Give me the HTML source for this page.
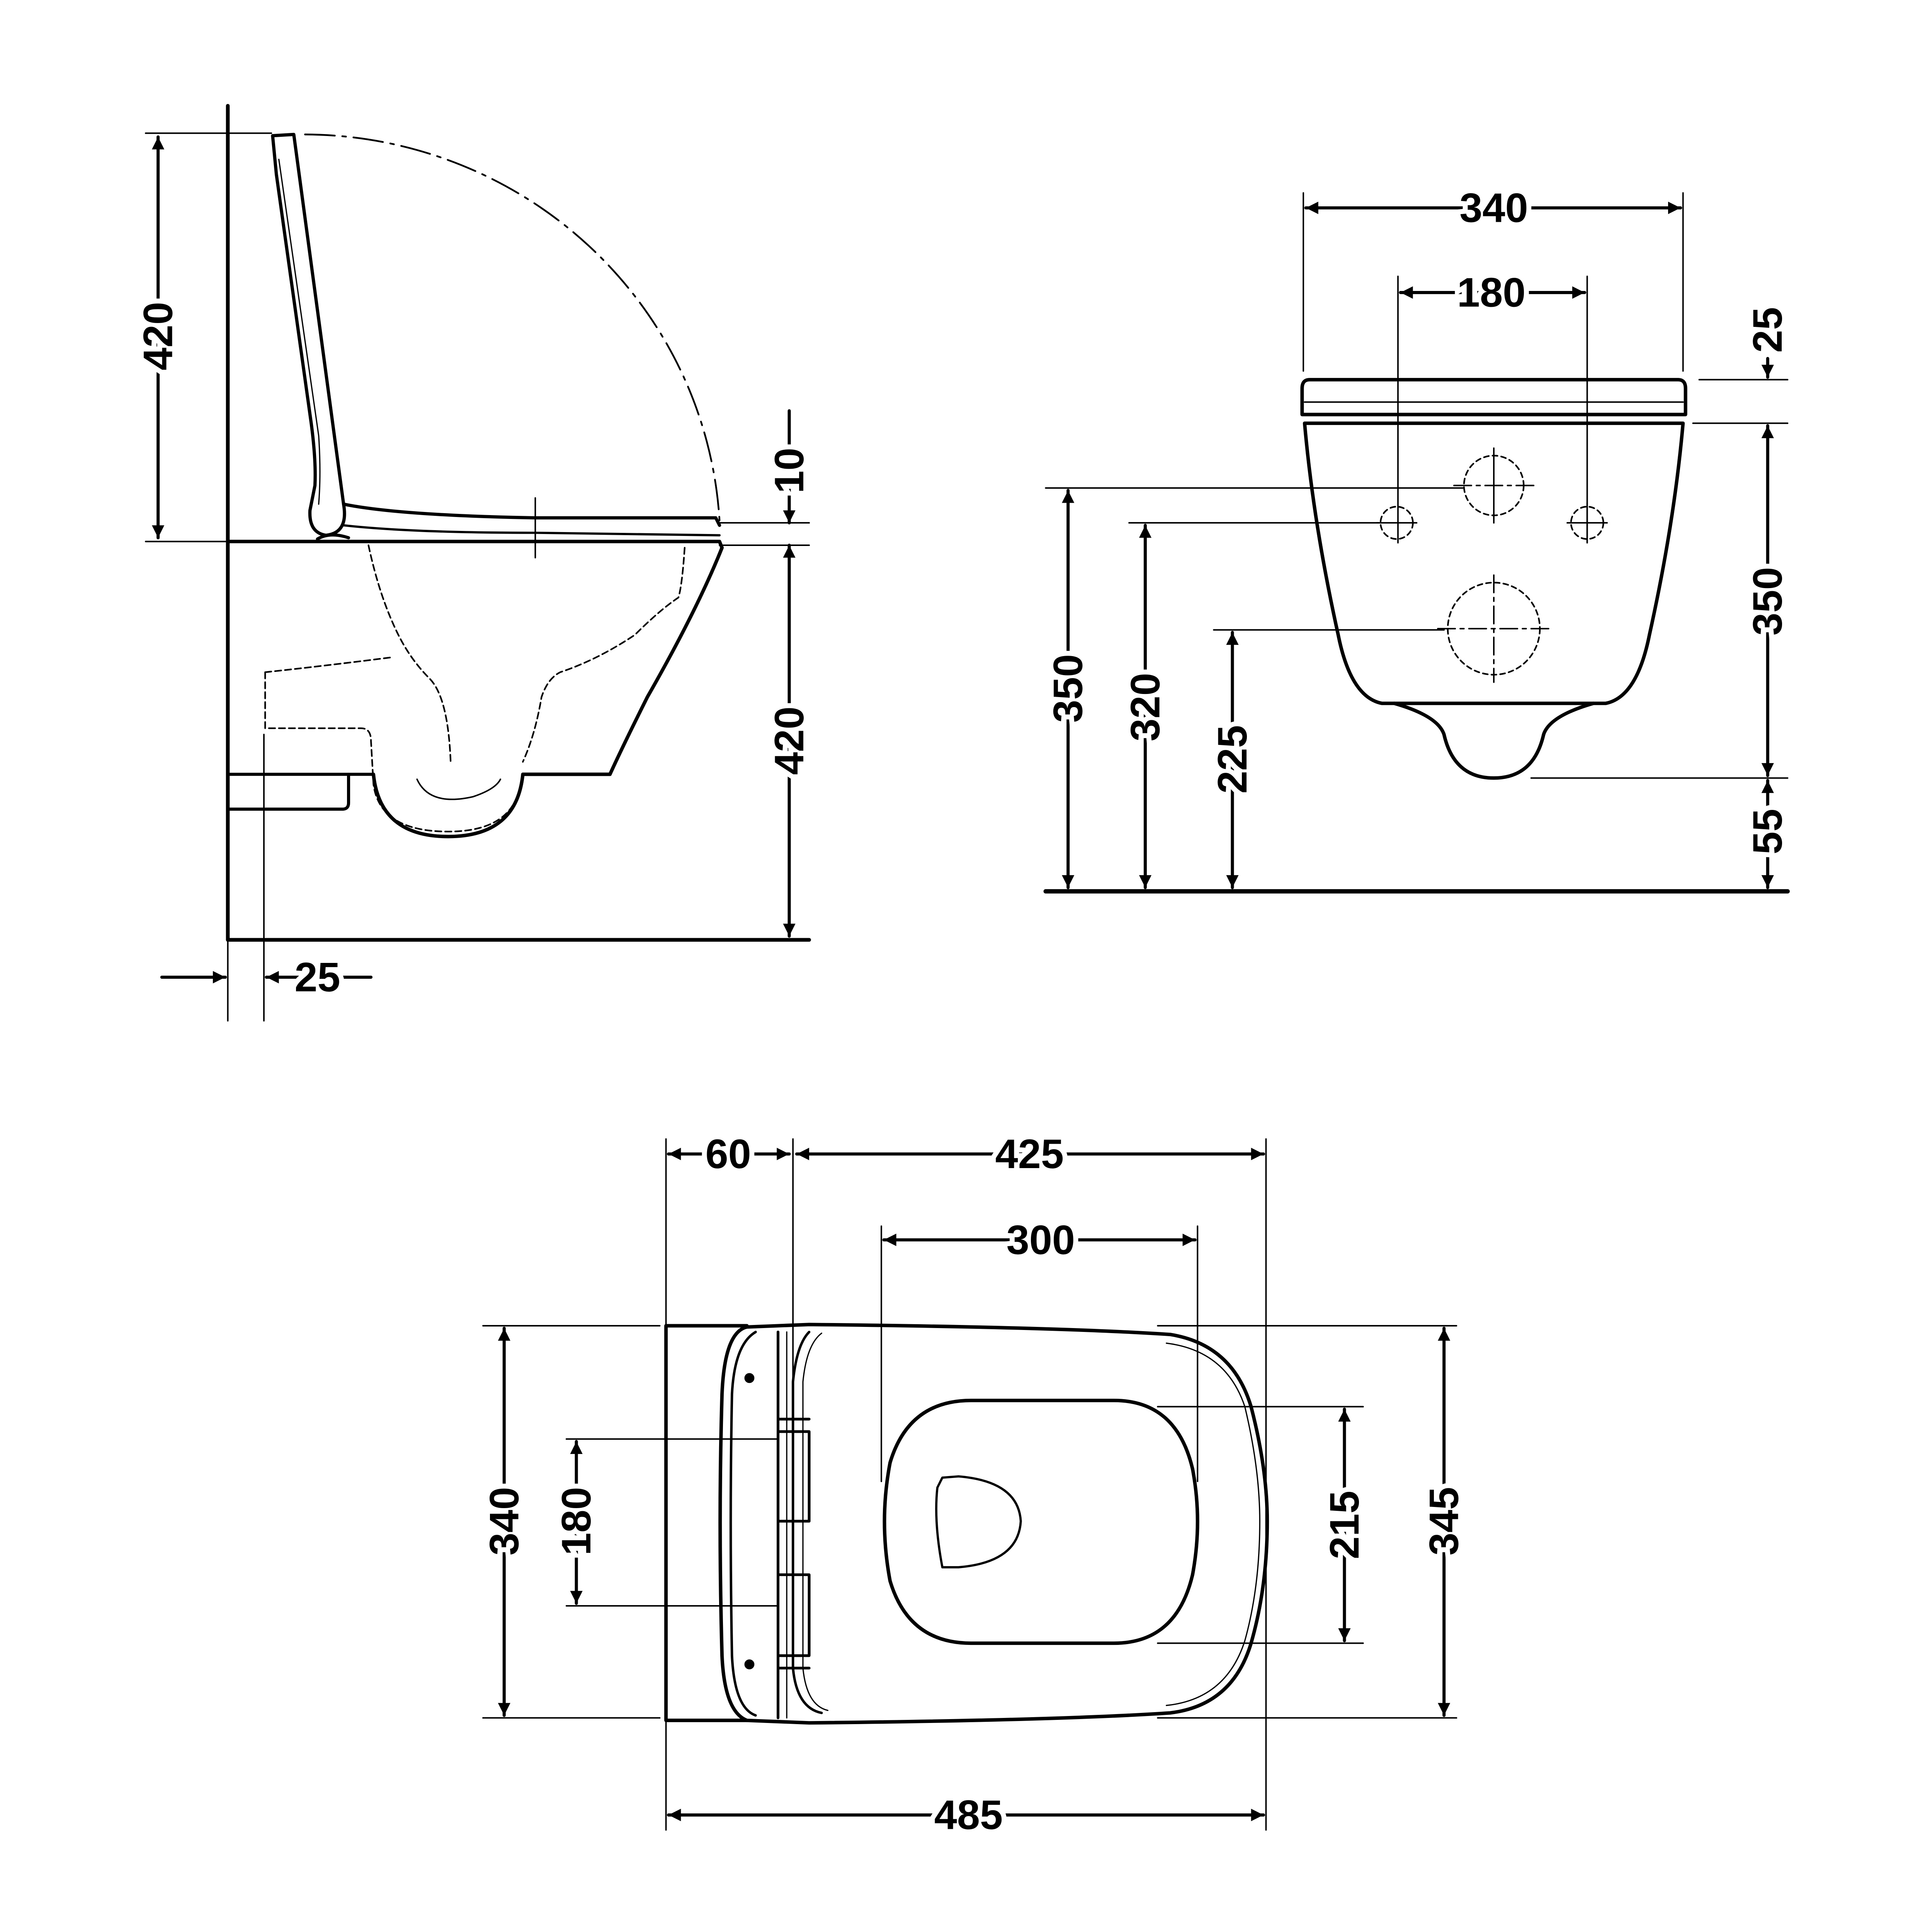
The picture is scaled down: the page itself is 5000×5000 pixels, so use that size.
<!DOCTYPE html>
<html><head><meta charset="utf-8"><style>html,body{margin:0;padding:0;background:#fff}svg{display:block}</style></head>
<body>
<svg width="5000" height="5000" viewBox="0 0 1552 1552" xmlns="http://www.w3.org/2000/svg">
<defs>
<marker id="a" viewBox="0 0 10 10" refX="10" refY="5" markerWidth="17" markerHeight="10" markerUnits="userSpaceOnUse" orient="auto-start-reverse"><path d="M0,0 L10,5 L0,10 z" fill="#000"/></marker>
</defs>
<rect width="1552" height="1552" fill="#fff"/>
<g fill="none" stroke="#000" stroke-linecap="round" stroke-linejoin="round">
<!-- SIDE VIEW -->
<line x1="183" y1="85" x2="183" y2="755" stroke-width="3"/>
<line x1="183" y1="755" x2="650" y2="755" stroke-width="3"/>
<line x1="212" y1="590" x2="212" y2="820" stroke-width="1.2"/>
<line x1="183" y1="755" x2="183" y2="820" stroke-width="1.2"/>
<line x1="117" y1="107" x2="218" y2="107" stroke-width="1.2"/>
<line x1="117" y1="435" x2="183" y2="435" stroke-width="1.2"/>
<line x1="127" y1="110" x2="127" y2="432" stroke-width="2.5" marker-start="url(#a)" marker-end="url(#a)"/>
<path d="M219,109 L236,108 L276,405 Q280,428 262,430 Q248,428 249,410 L253,390 Q254,370 250,340 L222,140 Z" stroke-width="2.6"/>
<path d="M224,128 L256,350 Q258,380 256,405" stroke-width="1"/>
<path d="M276,405 Q320,414 430,416 L575,416 L578,422" stroke-width="2.6"/>
<path d="M276,422 Q330,428 430,428 L578,430" stroke-width="1.8"/>
<path d="M255,433 Q265,427 280,432" stroke-width="2.5"/>
<line x1="430" y1="400" x2="430" y2="448" stroke-width="1.2"/>
<path d="M245,108 A335 330 0 0 1 578,418" stroke-width="1.4" stroke-dasharray="24,6,3,6"/>
<path d="M183,435 L578,435 L580,440 Q560,490 520,560 Q500,600 490,622 L420,622" stroke-width="2.8"/>
<path d="M300,622 Q305,672 360,672 Q415,672 420,622" stroke-width="2.8"/>
<line x1="183" y1="622" x2="300" y2="622" stroke-width="2.5"/>
<path d="M183,650 L275,650 Q280,650 280,645 L280,622" stroke-width="2.5"/>
<path d="M335,626 Q345,648 380,640 Q398,634 402,626" stroke-width="1.2"/>
<g stroke-width="1.3" stroke-dasharray="5,3">
<path d="M296,438 Q305,480 320,510 Q330,530 345,545 Q360,560 362,612"/>
<path d="M550,440 Q548,470 545,480 Q530,490 510,510 Q480,530 450,540 Q440,545 435,560 Q430,590 420,612"/>
<path d="M213,540 Q260,535 315,528"/>
<path d="M213,540 L213,585 L290,585 Q298,585 298,595 L300,630 Q305,668 360,668 Q412,668 418,630"/>
</g>
<line x1="578" y1="420" x2="650" y2="420" stroke-width="1.2"/>
<line x1="578" y1="438" x2="650" y2="438" stroke-width="1.2"/>
<line x1="634" y1="330" x2="634" y2="420" stroke-width="2.5" marker-end="url(#a)"/>
<line x1="634" y1="438" x2="634" y2="752" stroke-width="2.5" marker-start="url(#a)" marker-end="url(#a)"/>
<line x1="130" y1="785" x2="181" y2="785" stroke-width="2.5" marker-end="url(#a)"/>
<line x1="298" y1="785" x2="214" y2="785" stroke-width="2.5" marker-end="url(#a)"/>

<!-- FRONT VIEW -->
<line x1="1047" y1="155" x2="1047" y2="298" stroke-width="1.2"/>
<line x1="1352" y1="155" x2="1352" y2="298" stroke-width="1.2"/>
<line x1="1049" y1="167" x2="1350" y2="167" stroke-width="2.5" marker-start="url(#a)" marker-end="url(#a)"/>
<line x1="1123" y1="222" x2="1123" y2="436" stroke-width="1.2"/>
<line x1="1275" y1="222" x2="1275" y2="436" stroke-width="1.2"/>
<line x1="1125" y1="235" x2="1273" y2="235" stroke-width="2.5" marker-start="url(#a)" marker-end="url(#a)"/>
<path d="M1052,305 L1348,305 Q1354,305 1354,312 L1354,333 L1046,333 L1046,312 Q1046,305 1052,305 Z" stroke-width="2.8"/>
<line x1="1048" y1="323" x2="1352" y2="323" stroke-width="1.2"/>
<path d="M1048,340 L1352,340 Q1345,420 1325,510 Q1315,560 1290,565 L1110,565 Q1085,560 1075,510 Q1055,420 1048,340 Z" stroke-width="2.8"/>
<path d="M1120,565 Q1155,575 1160,590 Q1168,625 1200,625 Q1232,625 1240,590 Q1245,575 1280,565" stroke-width="2.8"/>
<g stroke-width="1.3" stroke-dasharray="4,3">
<circle cx="1200" cy="390" r="24"/>
<circle cx="1122" cy="420" r="13"/>
<circle cx="1275" cy="420" r="13"/>
<circle cx="1200" cy="505" r="37"/>
</g>
<g stroke-width="1.2">
<line x1="1168" y1="390" x2="1232" y2="390" stroke-dasharray="14,4,3,4"/>
<line x1="1200" y1="360" x2="1200" y2="420"/>
<line x1="1106" y1="420" x2="1138" y2="420"/>
<line x1="1259" y1="420" x2="1291" y2="420"/>
<line x1="1275" y1="404" x2="1275" y2="436"/>
<line x1="1155" y1="505" x2="1245" y2="505" stroke-dasharray="14,4,3,4"/>
<line x1="1200" y1="462" x2="1200" y2="548" stroke-dasharray="14,4,3,4"/>
</g>
<line x1="840" y1="716" x2="1436" y2="716" stroke-width="3.5"/>
<line x1="840" y1="392" x2="1175" y2="392" stroke-width="1.2"/>
<line x1="907" y1="420" x2="1108" y2="420" stroke-width="1.2"/>
<line x1="975" y1="506" x2="1160" y2="506" stroke-width="1.2"/>
<line x1="858" y1="394" x2="858" y2="713" stroke-width="2.5" marker-start="url(#a)" marker-end="url(#a)"/>
<line x1="920" y1="422" x2="920" y2="713" stroke-width="2.5" marker-start="url(#a)" marker-end="url(#a)"/>
<line x1="990" y1="508" x2="990" y2="713" stroke-width="2.5" marker-start="url(#a)" marker-end="url(#a)"/>
<line x1="1365" y1="305" x2="1436" y2="305" stroke-width="1.2"/>
<line x1="1360" y1="340" x2="1436" y2="340" stroke-width="1.2"/>
<line x1="1230" y1="625" x2="1436" y2="625" stroke-width="1.2"/>
<line x1="1420" y1="288" x2="1420" y2="303" stroke-width="2.5" marker-end="url(#a)"/>
<line x1="1420" y1="342" x2="1420" y2="623" stroke-width="2.5" marker-start="url(#a)" marker-end="url(#a)"/>
<line x1="1420" y1="627" x2="1420" y2="713" stroke-width="2.5" marker-start="url(#a)" marker-end="url(#a)"/>

<!-- PLAN VIEW -->
<line x1="535" y1="915" x2="535" y2="1470" stroke-width="1.2"/>
<line x1="637" y1="915" x2="637" y2="1120" stroke-width="1.2"/>
<line x1="1017" y1="915" x2="1017" y2="1470" stroke-width="1.2"/>
<line x1="537" y1="927" x2="634" y2="927" stroke-width="2.5" marker-start="url(#a)" marker-end="url(#a)"/>
<line x1="640" y1="927" x2="1015" y2="927" stroke-width="2.5" marker-start="url(#a)" marker-end="url(#a)"/>
<line x1="708" y1="985" x2="708" y2="1190" stroke-width="1.2"/>
<line x1="962" y1="985" x2="962" y2="1190" stroke-width="1.2"/>
<line x1="710" y1="996" x2="960" y2="996" stroke-width="2.5" marker-start="url(#a)" marker-end="url(#a)"/>
<line x1="537" y1="1458" x2="1015" y2="1458" stroke-width="2.5" marker-start="url(#a)" marker-end="url(#a)"/>
<path d="M535,1065 L600,1065 M535,1065 L535,1382 L600,1382" stroke-width="2.8"/>
<path d="M600,1066 L650,1064 Q850,1066 940,1072 Q990,1080 1005,1130 Q1018,1180 1018,1222 Q1018,1275 1005,1320 Q990,1370 940,1376 Q850,1382 650,1384 L600,1382 Q582,1375 580,1330 Q577,1222 580,1120 Q582,1070 600,1066 Z" stroke-width="2.8"/>
<path d="M607,1070 Q590,1080 588,1120 Q586,1222 588,1330 Q590,1372 607,1378" stroke-width="2"/>
<path d="M650,1070 Q640,1080 637,1110 L637,1340 Q640,1372 660,1376" stroke-width="2"/>
<path d="M660,1071 Q648,1080 645,1110 L645,1340 Q648,1370 665,1374" stroke-width="1"/>
<path d="M937,1079 Q985,1085 1000,1130 Q1012,1180 1012,1222 Q1012,1275 1000,1318 Q985,1365 937,1370" stroke-width="1"/>
<g stroke-width="2.2">
<path d="M625,1140 L650,1140 M625,1150 L650,1150 L650,1222 L625,1222 M625,1150 L625,1222"/>
<path d="M625,1265 L650,1265 L650,1330 L625,1330 M625,1340 L650,1340"/>
<line x1="625" y1="1070" x2="625" y2="1380"/>
<line x1="632" y1="1070" x2="632" y2="1380" stroke-width="1"/>
</g>
<circle cx="602" cy="1107" r="3.5" fill="#000"/>
<circle cx="602" cy="1337" r="3.5" fill="#000"/>
<path d="M780,1125 L895,1125 Q945,1125 958,1180 Q966,1222 958,1265 Q945,1320 895,1320 L780,1320 Q730,1320 715,1270 Q706,1222 715,1175 Q730,1125 780,1125 Z" stroke-width="2.8"/>
<path d="M757,1187 L770,1186 Q818,1190 820,1222 Q818,1255 770,1259 L757,1259 Q750,1222 753,1195 Z" stroke-width="1.8"/>
<line x1="388" y1="1065" x2="530" y2="1065" stroke-width="1.2"/>
<line x1="388" y1="1380" x2="530" y2="1380" stroke-width="1.2"/>
<line x1="405" y1="1067" x2="405" y2="1378" stroke-width="2.5" marker-start="url(#a)" marker-end="url(#a)"/>
<line x1="455" y1="1156" x2="625" y2="1156" stroke-width="1.2"/>
<line x1="455" y1="1290" x2="625" y2="1290" stroke-width="1.2"/>
<line x1="463" y1="1158" x2="463" y2="1288" stroke-width="2.5" marker-start="url(#a)" marker-end="url(#a)"/>
<line x1="930" y1="1065" x2="1170" y2="1065" stroke-width="1.2"/>
<line x1="930" y1="1130" x2="1095" y2="1130" stroke-width="1.2"/>
<line x1="930" y1="1320" x2="1095" y2="1320" stroke-width="1.2"/>
<line x1="930" y1="1380" x2="1170" y2="1380" stroke-width="1.2"/>
<line x1="1080" y1="1132" x2="1080" y2="1318" stroke-width="2.5" marker-start="url(#a)" marker-end="url(#a)"/>
<line x1="1160" y1="1067" x2="1160" y2="1378" stroke-width="2.5" marker-start="url(#a)" marker-end="url(#a)"/>
</g>
<g font-family="Liberation Sans, sans-serif" font-weight="bold" font-size="33" text-anchor="middle" dominant-baseline="central" fill="#000" stroke="#fff" stroke-width="8" paint-order="stroke">
<text transform="translate(127,270) rotate(-90)">420</text>
<text transform="translate(634,378) rotate(-90)">10</text>
<text transform="translate(634,595) rotate(-90)">420</text>
<text x="255" y="785">25</text>
<text x="1200" y="167">340</text>
<text x="1198" y="235">180</text>
<text transform="translate(1420,265) rotate(-90)">25</text>
<text transform="translate(1420,483) rotate(-90)">350</text>
<text transform="translate(1420,668) rotate(-90)">55</text>
<text transform="translate(858,553) rotate(-90)">350</text>
<text transform="translate(920,568) rotate(-90)">320</text>
<text transform="translate(990,610) rotate(-90)">225</text>
<text x="585" y="927">60</text>
<text x="827" y="927">425</text>
<text x="836" y="996">300</text>
<text x="778" y="1458">485</text>
<text transform="translate(405,1222) rotate(-90)">340</text>
<text transform="translate(463,1222) rotate(-90)">180</text>
<text transform="translate(1080,1225) rotate(-90)">215</text>
<text transform="translate(1160,1222) rotate(-90)">345</text>
</g>
</svg>
</body></html>
